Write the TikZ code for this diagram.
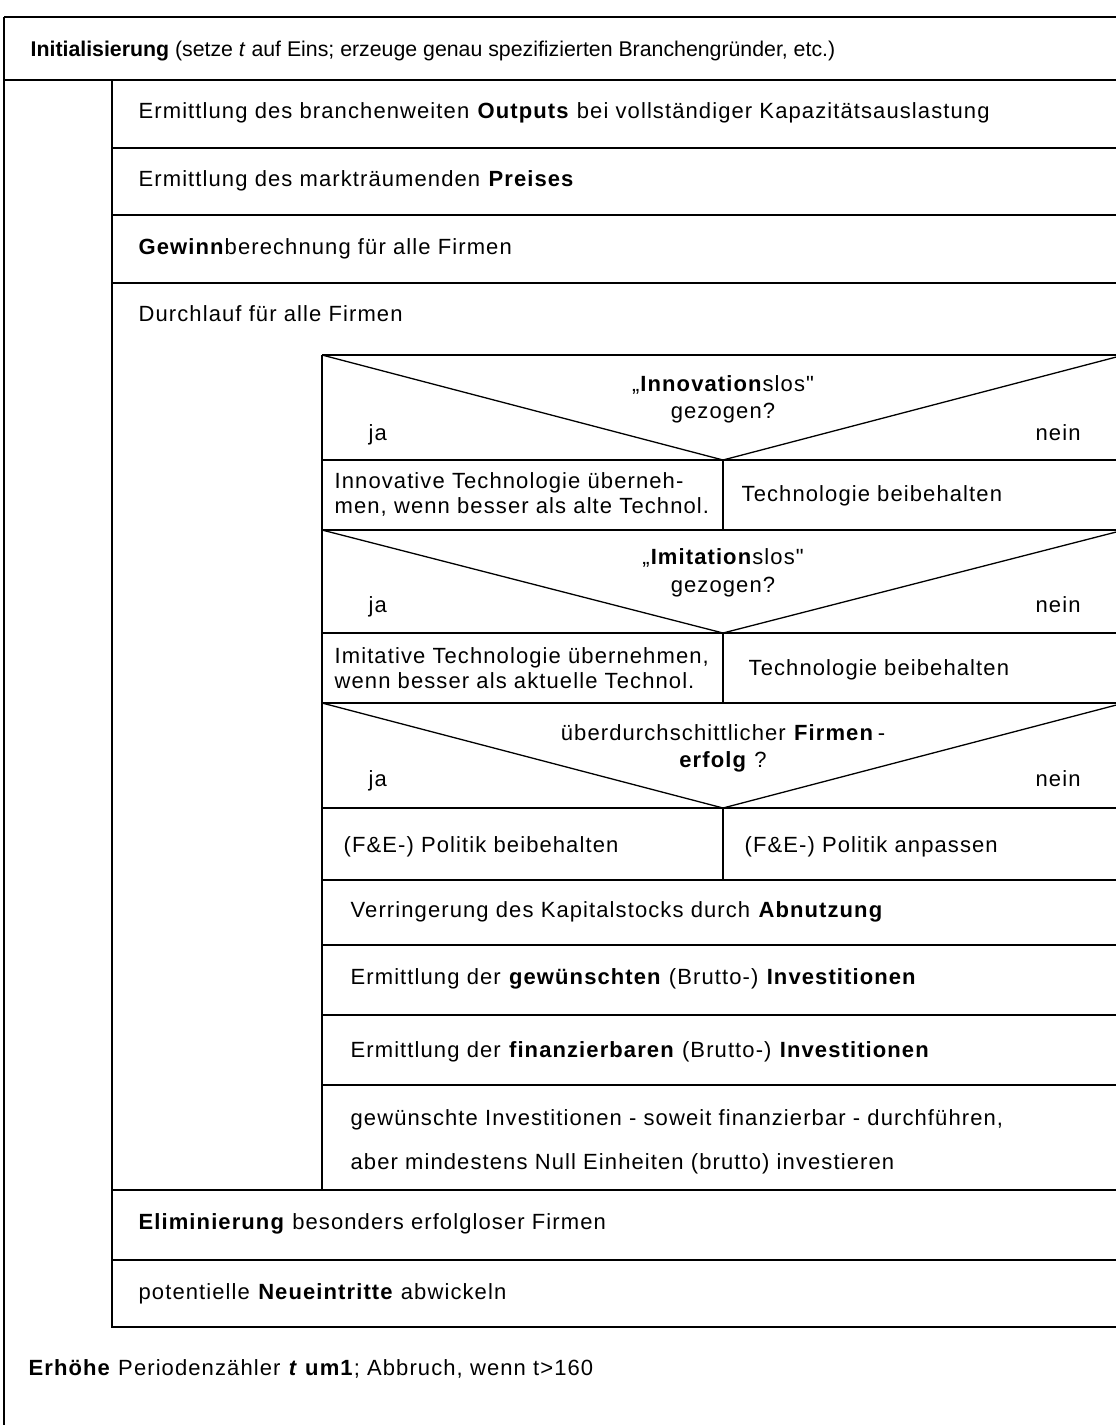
\documentclass[tikz,border=0pt]{standalone}
\usepackage{fontspec}
\setmainfont{Liberation Sans}[LetterSpace=5,Ligatures=TeXOff]
\newfontfamily\initfont{Liberation Sans}[Ligatures=TeXOff]
\newcommand{\fs}{\fontsize{22}{26}\selectfont}
\begin{document}
\begin{tikzpicture}[x=1pt,y=-1pt,line width=1.3pt,
  txt/.style={anchor=base west,inner sep=0pt,font=\fs},
  ctr/.style={anchor=base,inner sep=0pt,font=\fs}]
\useasboundingbox (0,0) rectangle (1116,1425);
\clip (0,0) rectangle (1116,1425);
\def\R{1124}
% outer frame
\draw (4,17) -- (\R,17);
\draw (4,17) -- (4,1440);
\draw (4,80) -- (\R,80);
% inner loop
\draw (112,80) -- (112,1327) -- (\R,1327);
\draw (112,148) -- (\R,148);
\draw (112,215) -- (\R,215);
\draw (112,283) -- (\R,283);
% firm loop
\draw (322,355) -- (\R,355);
\draw (322,355) -- (322,1190);
% decision 1
\draw (322,355) -- (723,460) -- (\R,355);
\draw (322,460) -- (\R,460);
\draw (723,460) -- (723,530);
\draw (322,530) -- (\R,530);
% decision 2
\draw (322,530) -- (723,633) -- (\R,530);
\draw (322,633) -- (\R,633);
\draw (723,633) -- (723,703);
\draw (322,703) -- (\R,703);
% decision 3
\draw (322,703) -- (723,808) -- (\R,703);
\draw (322,808) -- (\R,808);
\draw (723,808) -- (723,880);
\draw (322,880) -- (\R,880);
\draw (322,945) -- (\R,945);
\draw (322,1015) -- (\R,1015);
\draw (322,1085) -- (\R,1085);
\draw (112,1190) -- (\R,1190);
\draw (112,1260) -- (\R,1260);
% texts
\node[anchor=base west,inner sep=0pt,font=\initfont\fontsize{21.3}{25}\selectfont] (init) at (30,56) {\textbf{Initialisierung} (setze \textit{t} auf Eins; erzeuge genau spezifizierten Branchengründer, etc.)};
\node[txt] (outp) at (138,118) {Ermittlung des branchenweiten \textbf{Outputs} bei vollständiger Kapazitätsauslastung};
\node[txt] (preis) at (138,186) {Ermittlung des markträumenden \textbf{Preises}};
\node[txt] (gew) at (138,254) {\textbf{Gewinn}berechnung für alle Firmen};
\node[txt] (durch) at (138,321) {Durchlauf für alle Firmen};
% D1
\node[ctr] (d1a) at (723,391) {„\textbf{Innovation}slos"};
\node[ctr] (d1b) at (723,418) {gezogen?};
\node[txt] (ja1) at (368,440) {ja};
\node[txt] (nein1) at (1035,440) {nein};
\node[txt] (inn1) at (334,488) {Innovative Technologie überneh-};
\node[txt] (inn2) at (334,513) {men, wenn besser als alte Technol.};
\node[txt] (tb1) at (741,501) {Technologie beibehalten};
% D2
\node[ctr] (d2a) at (723,564) {„\textbf{Imitation}slos"};
\node[ctr] (d2b) at (723,592) {gezogen?};
\node[txt] (ja2) at (368,612) {ja};
\node[txt] (nein2) at (1035,612) {nein};
\node[txt] (imi1) at (334,663) {Imitative Technologie übernehmen,};
\node[txt] (imi2) at (334,688) {wenn besser als aktuelle Technol.};
\node[txt] (tb2) at (748,675) {Technologie beibehalten};
% D3
\node[ctr] (d3a) at (723,740) {überdurchschittlicher \textbf{Firmen}\,-};
\node[ctr] (d3b) at (723,767) {\textbf{erfolg} ?};
\node[txt] (ja3) at (368,786) {ja};
\node[txt] (nein3) at (1035,786) {nein};
\node[txt] (pb) at (343,852) {(F\&E-) Politik beibehalten};
\node[txt] (pa) at (744,852) {(F\&E-) Politik anpassen};
\node[txt] (abn) at (350,917) {Verringerung des Kapitalstocks durch \textbf{Abnutzung}};
\node[txt] (gewi) at (350,984) {Ermittlung der \textbf{gewünschten} (Brutto-) \textbf{Investitionen}};
\node[txt] (fin) at (350,1057) {Ermittlung der \textbf{finanzierbaren} (Brutto-) \textbf{Investitionen}};
\node[txt] (inv1) at (350,1125) {gewünschte Investitionen - soweit finanzierbar - durchführen,};
\node[txt] (inv2) at (350,1169) {aber mindestens Null Einheiten (brutto) investieren};
\node[txt] (elim) at (138,1229) {\textbf{Eliminierung} besonders erfolgloser Firmen};
\node[txt] (neu) at (138,1299) {potentielle \textbf{Neueintritte} abwickeln};
\node[txt] (erh) at (28,1375) {\textbf{Erhöhe} Periodenzähler \textbf{\textit{t} um1}; Abbruch, wenn t>160};
\end{tikzpicture}
\end{document}
